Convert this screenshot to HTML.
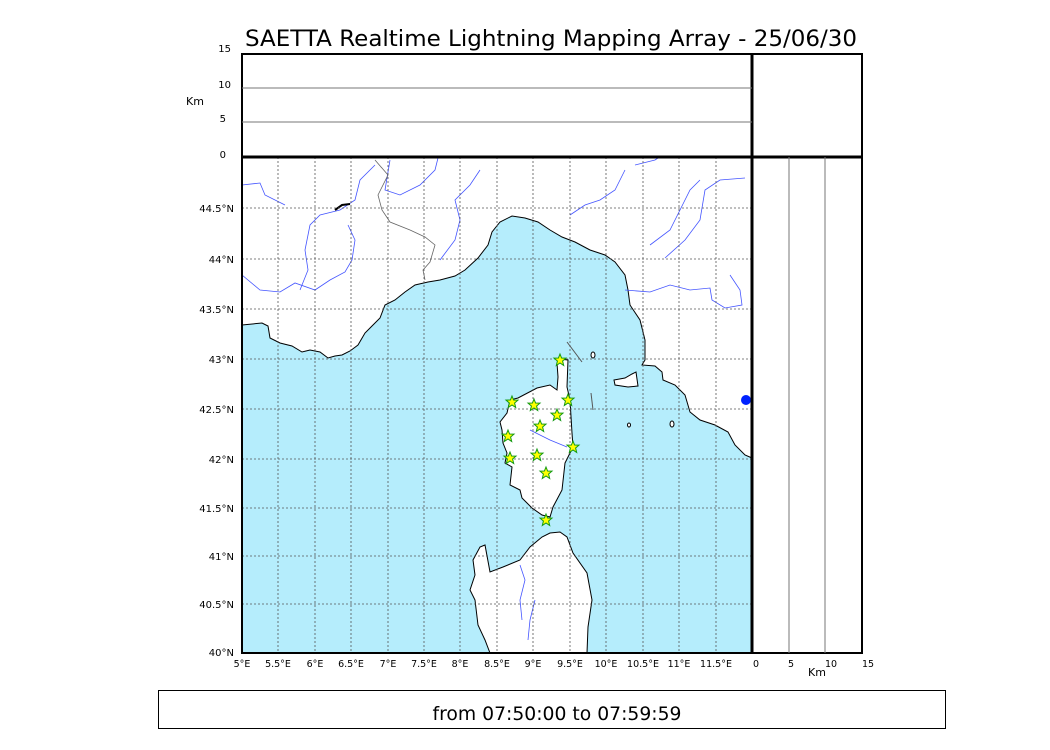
<!DOCTYPE html>
<html><head><style>body{margin:0;background:#fff}svg{display:block}</style></head><body>
<svg width="1050" height="750" viewBox="0 0 1050 750" xmlns="http://www.w3.org/2000/svg" font-family="DejaVu Sans, Liberation Sans, sans-serif">
<rect width="1050" height="750" fill="#fff"/>
<text x="551" y="46" font-size="22" text-anchor="middle" textLength="612" lengthAdjust="spacingAndGlyphs">SAETTA Realtime Lightning Mapping Array - 25/06/30</text>
<path d="M242,325 L262,323 268,326 270,338 280,343 292,346 302,352 310,350 320,352 328,358 335,356 342,355 350,351 358,345 365,333 372,326 380,318 385,305 395,300 405,292 415,285 428,282 440,280 455,276 465,270 478,258 488,245 492,232 500,222 512,216 525,218 538,222 550,230 562,237 575,242 590,250 605,255 615,262 625,275 628,290 630,305 640,320 645,340 645,360 642,365 655,366 662,372 663,380 675,385 685,395 690,412 700,420 715,425 728,432 735,445 745,455 752,458 L752,653 L242,653 Z" fill="#b5edfc" stroke="#000" stroke-width="1"/>
<path d="M559,359 568,360 567,387 570,400 572,433 573,447 565,463 562,490 553,507 550,517 542,515 532,508 522,498 520,490 510,485 512,467 505,463 507,453 503,443 502,430 500,422 507,413 510,400 518,398 537,388 550,385 557,390 558,377 557,363 Z" fill="#fff" stroke="#000" stroke-width="1"/>
<path d="M550,533 560,532 567,537 573,553 587,573 592,600 588,627 587,653 490,653 485,640 478,625 475,600 470,590 475,575 473,560 480,547 485,545 490,572 503,567 520,560 530,547 542,537 Z" fill="#fff" stroke="#000" stroke-width="1"/>
<path d="M614,380 625,378 632,374 636,372 638,386 628,387 615,385 Z" fill="#fff" stroke="#000"/>
<ellipse cx="593" cy="355" rx="2" ry="3" fill="#fff" stroke="#000"/>
<ellipse cx="629" cy="425" rx="1.5" ry="2" fill="#fff" stroke="#000"/>
<ellipse cx="672" cy="424" rx="2" ry="3" fill="#fff" stroke="#000"/>
<path d="M567,342 582,362" stroke="#555" fill="none"/>
<path d="M591,393 593,410" stroke="#555" fill="none"/>
<g fill="none" stroke="#4455ff" stroke-width="0.8">
<path d="M242,185 260,183 265,195 285,205"/>
<path d="M242,275 260,290 280,292 295,283 315,290 330,280 345,272 352,260 355,240 348,225"/>
<path d="M300,290 308,270 305,250 310,225 320,215 340,210 355,200 360,180 375,165"/>
<path d="M390,160 385,190 400,195 420,185 435,170 438,158"/>
<path d="M440,260 455,240 460,220 455,200 470,185 480,170"/>
<path d="M570,215 585,205 600,200 615,190 625,170"/>
<path d="M650,245 670,230 680,210 690,190 700,180"/>
<path d="M665,258 685,240 700,220 705,190 720,180 745,178"/>
<path d="M625,290 650,292 670,285 690,290 710,288 712,300 725,308 742,305 740,290 730,275"/>
<path d="M635,165 655,160 658,158"/>
<path d="M530,430 550,440 567,447"/>
<path d="M520,565 525,580 520,600 522,620"/>
<path d="M535,600 530,620 528,640"/>
</g>
<path d="M375,160 388,175 378,195 382,210 390,222 410,230 425,237 435,245 430,262 423,270 425,280" fill="none" stroke="#666" stroke-width="0.8"/>
<path d="M335,210 342,205 350,204" fill="none" stroke="#000" stroke-width="2"/>
<circle cx="746" cy="400" r="5" fill="#0022ff"/>
<g stroke="#555" stroke-width="0.8" stroke-dasharray="2,2">
<path d="M278,157V653M315,157V653M351,157V653M388,157V653M424,157V653M460,157V653M497,157V653M533,157V653M570,157V653M606,157V653M643,157V653M679,157V653M716,157V653"/>
<path d="M242,208H752M242,259H752M242,309H752M242,359H752M242,409H752M242,459H752M242,508H752M242,556H752M242,604H752"/>
</g>
<g fill="#ffff00" stroke="#119911" stroke-width="1">
<path id="s" d="M0,-6 L1.6,-2 6,-1.9 2.6,1 3.7,5.5 0,3 -3.7,5.5 -2.6,1 -6,-1.9 -1.6,-2Z" transform="translate(560,360)"/>
<use href="#s" x="-48" y="42"/><use href="#s" x="-26" y="45"/><use href="#s" x="8" y="40"/><use href="#s" x="-3" y="55"/><use href="#s" x="-20" y="66"/><use href="#s" x="-52" y="76"/><use href="#s" x="13" y="87"/><use href="#s" x="-23" y="95"/><use href="#s" x="-50" y="98"/><use href="#s" x="-14" y="113"/><use href="#s" x="-14" y="160"/>
</g>
<g fill="none" stroke="#000">
<rect x="242" y="54" width="620" height="599" stroke-width="2"/>
<path d="M242,157H862M752,54V653" stroke-width="3"/>
</g>
<path d="M242,88H752M242,122H752M789,157V653M825,157V653" stroke="#777" stroke-width="1"/>
<g font-size="10" text-anchor="end">
<text x="231" y="52">15</text><text x="231" y="88">10</text><text x="226" y="122">5</text><text x="226" y="158">0</text>
<text x="234" y="212">44.5°N</text><text x="234" y="263">44°N</text><text x="234" y="313">43.5°N</text><text x="234" y="363">43°N</text><text x="234" y="413">42.5°N</text><text x="234" y="463">42°N</text><text x="234" y="512">41.5°N</text><text x="234" y="560">41°N</text><text x="234" y="608">40.5°N</text><text x="234" y="656">40°N</text>
</g>
<text x="186" y="105" font-size="11">Km</text>
<g font-size="9.5" text-anchor="middle">
<text x="242" y="667">5°E</text><text x="278" y="667">5.5°E</text><text x="315" y="667">6°E</text><text x="351" y="667">6.5°E</text><text x="388" y="667">7°E</text><text x="424" y="667">7.5°E</text><text x="460" y="667">8°E</text><text x="497" y="667">8.5°E</text><text x="533" y="667">9°E</text><text x="570" y="667">9.5°E</text><text x="606" y="667">10°E</text><text x="643" y="667">10.5°E</text><text x="679" y="667">11°E</text><text x="716" y="667">11.5°E</text>
<text x="756" y="667">0</text><text x="791" y="667">5</text><text x="831" y="667">10</text><text x="868" y="667">15</text>
</g>
<text x="817" y="676" font-size="11" text-anchor="middle">Km</text>
<rect x="158.5" y="690.5" width="787" height="38" fill="none" stroke="#000"/>
<text x="557" y="720" font-size="19" text-anchor="middle" textLength="249" lengthAdjust="spacingAndGlyphs">from 07:50:00 to 07:59:59</text>
</svg>
</body></html>
